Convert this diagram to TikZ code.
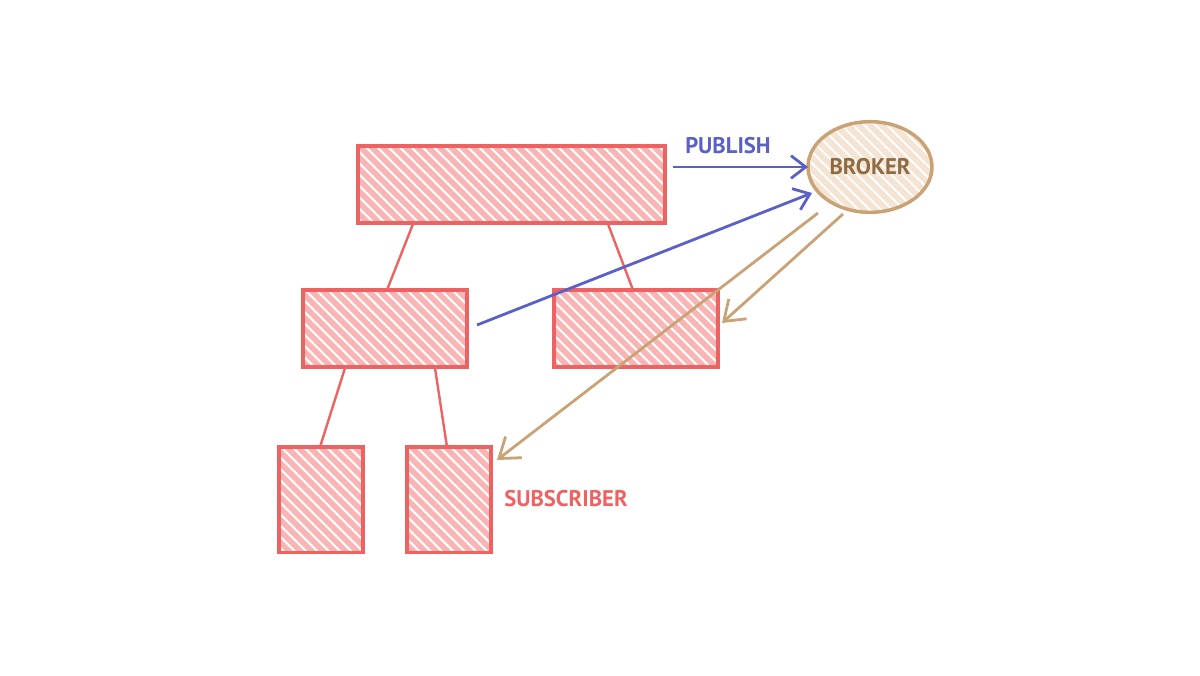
\documentclass[tikz,border=0pt]{standalone}
\usepackage{fontspec}
\setmainfont{PT Sans}
\usetikzlibrary{arrows.meta,patterns.meta,shapes.geometric}
\definecolor{redline}{HTML}{EE6262}
\definecolor{redfill}{HTML}{FBB4B4}
\definecolor{blueline}{HTML}{5B60C8}
\definecolor{tanline}{HTML}{C9A275}
\definecolor{tanfill}{HTML}{F4E4D4}
\definecolor{tantext}{HTML}{8F6B42}
\tikzset{
  box/.style={fill=redfill,
    postaction={pattern={Lines[angle=-45,distance=6pt,line width=1.6pt]}, pattern color=white},
    postaction={draw=redline, line width=2.8pt}, inner sep=0pt, anchor=north west},
  broker/.style={ellipse, fill=tanfill,
    postaction={pattern={Lines[angle=-45,distance=6pt,line width=1.4pt]}, pattern color=white},
    postaction={draw=tanline, line width=2.6pt},
    minimum width=93pt, minimum height=68pt, inner sep=0pt, text=tantext, font=\fontsize{17}{17}\selectfont\bfseries},
  link/.style={draw=redline, line width=1.8pt},
  pub/.style={draw=blueline, line width=2.1pt, -{Straight Barb[length=11pt,width=17pt,line width=2.1pt]}},
  sub/.style={draw=tanline, line width=2.1pt, -{Straight Barb[length=14pt,width=20pt,line width=2.1pt]}},
  lbl/.style={font=\fontsize{17}{17}\selectfont\bfseries}
}
\begin{document}
\begin{tikzpicture}[x=0.75pt,y=-0.75pt]
\useasboundingbox (0,0) rectangle (1200,675);
% boxes
\node[box, minimum width=230pt, minimum height=57.5pt] (top) at (358,146) {};
\node[box, minimum width=123pt, minimum height=57.5pt] (ml) at (303,290) {};
\node[box, minimum width=123pt, minimum height=57.5pt] (mr) at (554,290) {};
\node[box, minimum width=63pt, minimum height=79pt] (bl) at (279,447) {};
\node[box, minimum width=63pt, minimum height=79pt] (br) at (407,447) {};
\node[broker] (bk) at (870,167) {BROKER};
% tree links
\coordinate (t1) at (413,224);
\coordinate (t2) at (608,224);
\coordinate (m1) at (387,290);
\coordinate (m2) at (633,290);
\coordinate (l1) at (345,368);
\coordinate (l2) at (435,368);
\coordinate (b1) at (320,447);
\coordinate (b2) at (447,447);
\draw[link] (t1) -- (m1);
\draw[link] (t2) -- (m2);
\draw[link] (l1) -- (b1);
\draw[link] (l2) -- (b2);
% publish
\coordinate (p0) at (673,167);
\coordinate (p1) at (808,167);
\draw[pub] (p0) -- (p1);
\coordinate (q0) at (477,325);
\coordinate (q1) at (812,193);
\draw[pub] (q0) -- (q1);
\node[lbl, text=blueline] (publbl) at (728,146) {PUBLISH};
% subscribe
\coordinate (s0) at (843,214);
\coordinate (s1) at (722,323);
\draw[sub] (s0) -- (s1);
\coordinate (r0) at (818,213);
\coordinate (r1) at (497,460);
\draw[sub] (r0) -- (r1);
\node[lbl, text=redline] (sublbl) at (566,499) {SUBSCRIBER};
\end{tikzpicture}
\end{document}
